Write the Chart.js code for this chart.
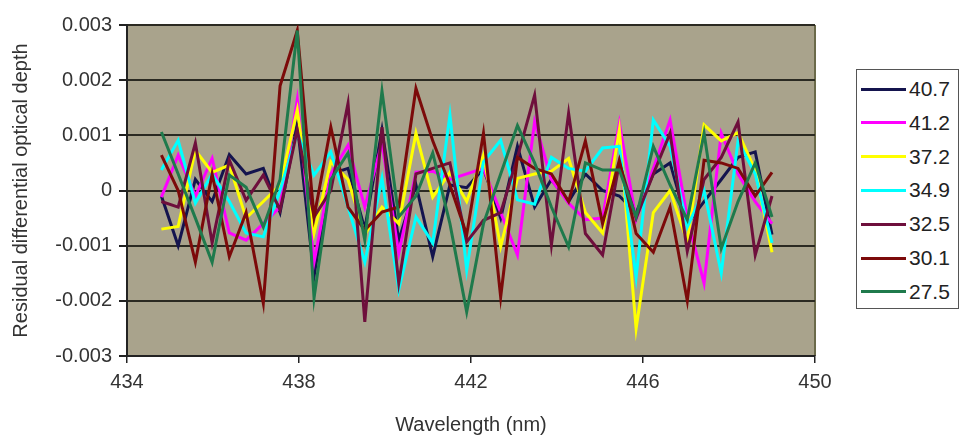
<!DOCTYPE html>
<html>
<head>
<meta charset="utf-8">
<title>Residual differential optical depth</title>
<script src="https://cdn.jsdelivr.net/npm/chart.js@4.4.1/dist/chart.umd.min.js"></script>
<style>
  html, body { margin: 0; padding: 0; background: #fff; }
  #wrap { position: relative; width: 962px; height: 437px; }
  #legend {
    position: absolute; left: 856px; top: 69px; width: 103px; height: 240px;
    border: 1.5px solid #555; box-sizing: border-box; background: #fff;
    font-family: "Liberation Sans", Arial, sans-serif; font-size: 21px; color: #222;
  }
  .row { position: absolute; left: 0; height: 24px; display: flex; align-items: center; }
  .swatch { width: 45px; height: 3px; margin-left: 4px; margin-right: 3px; }
</style>
</head>
<body>
<div id="wrap">
  <canvas id="myChart" width="962" height="437"></canvas>
  <div id="legend"></div>
</div>
<script>
// wavelengths (nm)
var wavelengths = [434.80, 435.19, 435.59, 435.98, 436.38, 436.77, 437.17, 437.56, 437.96, 438.35,
                   438.74, 439.14, 439.53, 439.93, 440.32, 440.72, 441.11, 441.51, 441.90, 442.29,
                   442.69, 443.08, 443.48, 443.87, 444.27, 444.66, 445.06, 445.45, 445.84, 446.24,
                   446.63, 447.03, 447.42, 447.82, 448.21, 448.61, 449.00];

var seriesLabels = ['40.7', '41.2', '37.2', '34.9', '32.5', '30.1', '27.5'];
var seriesColors = ['#14144e', '#ff00ff', '#ffff00', '#00ffff', '#6e0f3c', '#7c0a0a', '#1f7a4c'];

var s407 = [-0.0001, -0.001, 0.0002, -0.0002, 0.00065, 0.0003, 0.0004, -0.0004, 0.0012, -0.00155,
            0.0003, 0.0004, -0.0007, 0.0011, -0.0009, 0.0001, -0.0012, 0.0001, 0.00005, 0.0004,
            -0.0005, 0.0008, -0.0003, 0.0002, -0.0002, 0.0003, 0, -0.0001, -0.0004, 0.0003,
            0.0005, -0.0006, -0.0002, 0.0002, 0.0006, 0.0007, -0.0008];
var s412 = [-0.00012, 0.00064, -0.0001, 0.00058, -0.00077, -0.0009, -0.0006, -0.0003, 0.00165, -0.0013,
            0.0003, 0.00082, -0.0003, 0.00086, -0.00114, 0.00033, 0.00035, 0.0002, 0.0003, 0.0004,
            -0.0004, -0.00117, 0.00125, 0.0002, -0.00023, -0.00053, -0.0005, 0.00122, -0.00053, 0.0004,
            0.00128, -0.0005, -0.00168, 0.00104, 0.0003, -0.0002, -0.0006];
var s372 = [-0.0007, -0.00065, 0.00073, 0.00033, 0.00046, -0.0005, -0.0002, 0.0001, 0.00146, -0.00077,
            0.00052, 0.0002, -0.0008, -0.0003, -0.0006, 0.00104, -0.00012, 0.00033, -0.0002, 0.00064,
            -0.00102, 0.00022, 0.0003, 0.00035, 0.00058, -0.0004, -0.00077, 0.0011, -0.0025, -0.0004,
            0, -0.00093, 0.00119, 0.0009, 0.00105, 0.00037, -0.00112];
var s349 = [0.00037, 0.00091, -0.00023, 0.0003, -0.0002, -0.00077, -0.00084, 0, 0.00104, 0.00028,
            0.0007, -0.0003, -0.0013, 0.00022, -0.0018, -0.00048, -0.00095, 0.00137, -0.00144, 0.00052,
            0.00091, -0.00017, -0.00025, 0.0006, 0.0004, 0.00035, 0.00077, 0.0008, -0.00157, 0.00128,
            0.0008, -0.00066, 0, -0.0015, 0.0009, 0.0003, -0.00095];
var s325 = [-0.0002, -0.0003, 0.00086, -0.00095, 0.00055, -0.00018, 0.00028, -0.00035, 0.0011, -0.00048,
            0, 0.00158, -0.00238, 0.00115, -0.00168, 0.0003, 0.0004, 0.0005, -0.00093, -0.00054,
            -0.0004, 0.0006, 0.00173, -0.00099, 0.0014, -0.00078, -0.00117, 0.0005, -0.0005, 0.0003,
            0.00104, -0.0011, 0.0002, 0.0006, 0.00124, -0.00117, -0.0001];
var s301 = [0.00064, 0, -0.0013, 0.0003, -0.0012, -0.0004, -0.00204, 0.0019, 0.0029, -0.00048,
            0.00115, -0.0003, -0.00072, -0.00039, -0.0003, 0.00185, 0.0009, 0.0001, -0.0008, 0.00104,
            -0.00193, 0.0006, 0.0004, 0.0003, -0.0002, 0.0009, -0.0006, 0.00055, -0.00078, -0.00112,
            -0.0003, -0.002, 0.00055, 0.0005, 0.0004, -0.0001, 0.00033];
var s275 = [0.00106, 0.0003, -0.0005, -0.0013, 0.00028, 0.00006, -0.00066, 0.0002, 0.0029, -0.00195,
            0.0002, 0.00068, -0.0009, 0.0018, -0.00048, -0.0001, 0.00068, -0.0006, -0.0022, -0.0006,
            0.0003, 0.00118, 0.0005, -0.0003, -0.00102, 0.0005, 0.00037, 0.00037, -0.00048, 0.0008,
            0.0001, -0.00053, 0.00104, -0.00105, -0.0002, 0.0005, -0.00048];

var allSeries = [s407, s412, s372, s349, s325, s301, s275];

var axisFont = { family: '"Liberation Sans", Arial, sans-serif', size: 20 };

var datasets = allSeries.map(function (vals, i) {
    return {
        label: seriesLabels[i],
        data: vals.map(function (v, j) { return { x: wavelengths[j], y: v }; }),
        borderColor: seriesColors[i],
        backgroundColor: seriesColors[i],
        borderWidth: 3,
        pointRadius: 0,
        tension: 0,
        order: allSeries.length - i   // last series drawn on top, like the original
    };
});

// plot area fill and right border
var plotBg = {
    id: 'plotBg',
    beforeDraw: function (chart) {
        var a = chart.chartArea, ctx = chart.ctx;
        ctx.save();
        ctx.fillStyle = '#a9a38c';
        ctx.fillRect(a.left, a.top, a.right - a.left, a.bottom - a.top);
        ctx.strokeStyle = '#6b6a4a';
        ctx.lineWidth = 2;
        ctx.beginPath();
        ctx.moveTo(a.right, a.top);
        ctx.lineTo(a.right, a.bottom);
        ctx.stroke();
        ctx.restore();
    }
};

var ctx = document.getElementById('myChart').getContext('2d');
var chart = new Chart(ctx, {
    type: 'line',
    data: { datasets: datasets },
    plugins: [plotBg],
    options: {
        responsive: false,
        animation: false,
        devicePixelRatio: 1,
        layout: { padding: { left: 0, right: 147, top: 25, bottom: 0 } },
        plugins: { legend: { display: false }, tooltip: { enabled: false } },
        scales: {
            x: {
                type: 'linear',
                min: 434,
                max: 450,
                ticks: { stepSize: 4, color: '#333', font: axisFont, padding: 7, maxRotation: 0 },
                grid: { drawOnChartArea: false, tickLength: 7, tickColor: '#222', lineWidth: 1.5 },
                border: { color: '#222', width: 2 },
                title: { display: true, text: 'Wavelength (nm)', color: '#333', font: axisFont, padding: { top: 4, bottom: 0 } },
                afterFit: function (scale) { scale.height = 81; }
            },
            y: {
                min: -0.003,
                max: 0.003,
                ticks: {
                    stepSize: 0.001,
                    color: '#333',
                    font: axisFont,
                    padding: 7,
                    callback: function (v) { return Math.abs(v) < 1e-9 ? '0' : v.toFixed(3); }
                },
                grid: { color: '#2b2a22', lineWidth: 2, tickLength: 8, tickColor: '#222' },
                border: { color: '#222', width: 2 },
                title: { display: true, text: 'Residual differential optical depth', color: '#333', font: axisFont, padding: { top: 9, bottom: 0 } },
                afterFit: function (scale) { scale.width = 127; }
            }
        }
    }
});

// legend box on the right
var legend = document.getElementById('legend');
seriesLabels.forEach(function (lab, i) {
    var row = document.createElement('div');
    row.className = 'row';
    row.style.top = (7 + i * 33.8) + 'px';
    var sw = document.createElement('span');
    sw.className = 'swatch';
    sw.style.background = seriesColors[i];
    var tx = document.createElement('span');
    tx.textContent = lab;
    row.appendChild(sw);
    row.appendChild(tx);
    legend.appendChild(row);
});
</script>
</body>
</html>
